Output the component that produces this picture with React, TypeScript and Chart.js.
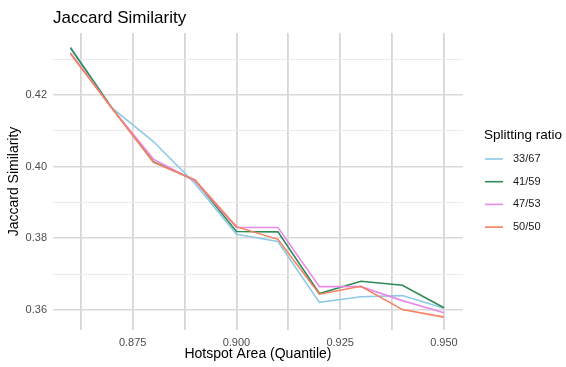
import React, { useEffect, useRef } from "react";
import { Chart, registerables } from "chart.js";

Chart.register(...registerables);

const xValues = [0.86, 0.87, 0.88, 0.89, 0.9, 0.91, 0.92, 0.93, 0.94, 0.95];
const seriesNames = ["33/67", "41/59", "47/53", "50/50"];
const s3367 = [0.4334, 0.4164, 0.4070, 0.3953, 0.3811, 0.3791, 0.3621, 0.3637, 0.3640, 0.3605];
const s4159 = [0.4331, 0.4164, 0.4014, 0.3962, 0.3819, 0.3818, 0.3646, 0.3680, 0.3669, 0.3606];
const s4753 = [0.4318, 0.4163, 0.4021, 0.3960, 0.3830, 0.3830, 0.3665, 0.3665, 0.3626, 0.3592];
const s5050 = [0.4315, 0.4163, 0.4012, 0.3963, 0.38325, 0.3797, 0.3644, 0.3666, 0.3601, 0.3580];
const seriesColors = ["#8ECAE6", "#2E8B57", "#E78AE8", "#F4805E"];
const xTickLabels = ["0.875", "0.900", "0.925", "0.950"];
const yTickLabels = ["0.36", "0.38", "0.40", "0.42"];

const FONT = "'Liberation Sans', Arial, sans-serif";

export default function App() {
  const ref = useRef<HTMLCanvasElement>(null);
  useEffect(() => {
    document.body.style.margin = "0";
    const canvas = ref.current!;
    const allSeries = [s3367, s4159, s4753, s5050];
    const near = (v: number, arr: string[]) => arr.some((l) => Math.abs(parseFloat(l) - v) < 1e-6);

    const overlay = {
      id: "overlay",
      afterDraw(chart: any) {
        const ctx = chart.ctx;
        const ca = chart.chartArea;
        ctx.save();
        ctx.fillStyle = "#000";
        ctx.font = `17px ${FONT}`;
        ctx.textAlign = "left";
        ctx.textBaseline = "middle";
        ctx.fillText("Jaccard Similarity", ca.left, 18);
        ctx.font = `14px ${FONT}`;
        ctx.textAlign = "center";
        ctx.fillText("Hotspot Area (Quantile)", (ca.left + ca.right) / 2, 354);
        ctx.save();
        ctx.translate(14, (ca.top + ca.bottom) / 2);
        ctx.rotate(-Math.PI / 2);
        ctx.fillText("Jaccard Similarity", 0, 0);
        ctx.restore();
        // legend
        ctx.textAlign = "left";
        ctx.font = `13.5px ${FONT}`;
        ctx.fillText("Splitting ratio", 484, 135);
        ctx.font = `11px ${FONT}`;
        seriesNames.forEach((n, i) => {
          const y = 159 + i * 22.7;
          ctx.strokeStyle = seriesColors[i];
          ctx.lineWidth = 1.6;
          ctx.beginPath();
          ctx.moveTo(485, y);
          ctx.lineTo(503, y);
          ctx.stroke();
          ctx.fillStyle = "#1a1a1a";
          ctx.fillText(n, 513, y);
        });
        ctx.restore();
      },
    };

    const chart = new Chart(canvas, {
      type: "line",
      data: {
        datasets: seriesNames.map((n, i) => ({
          label: n,
          data: xValues.map((x, j) => ({ x, y: allSeries[i][j] })),
          borderColor: seriesColors[i],
          backgroundColor: seriesColors[i],
          borderWidth: 1.6,
          pointRadius: 0,
          tension: 0,
          order: 4 - i,
        })),
      },
      options: {
        animation: false,
        responsive: false,
        maintainAspectRatio: false,
        layout: { padding: { left: 0, top: 33, right: 103, bottom: 0 } },
        plugins: { legend: { display: false }, title: { display: false }, tooltip: { enabled: false } },
        scales: {
          x: {
            type: "linear",
            min: 0.8558,
            max: 0.9546,
            border: { display: false },
            afterFit: (s: any) => { s.height = 37; },
            afterBuildTicks: (s: any) => {
              const t = [];
              for (let k = 0; k < 8; k++) t.push({ value: 0.8625 + k * 0.0125 });
              s.ticks = t;
            },
            grid: {
              drawTicks: false,
              color: "#D6D6D6",
              lineWidth: 1.8,
            },
            ticks: {
              padding: 6,
              color: "#4D4D4D",
              font: { family: FONT, size: 11 },
              maxRotation: 0,
              autoSkip: false,
              callback: (v: any) => {
                const n = Number(v);
                const lbl = xTickLabels.find((l) => Math.abs(parseFloat(l) - n) < 1e-6);
                return lbl ?? "";
              },
            },
          },
          y: {
            type: "linear",
            min: 0.3544,
            max: 0.4373,
            border: { display: false },
            afterFit: (s: any) => { s.width = 53; },
            afterBuildTicks: (s: any) => {
              const t = [];
              for (let k = 0; k < 8; k++) t.push({ value: 0.36 + k * 0.01 });
              s.ticks = t;
            },
            grid: {
              drawTicks: false,
              color: (c: any) => (near(c.tick?.value, yTickLabels) ? "#D9D9D9" : "#EBEBEB"),
              lineWidth: (c: any) => (near(c.tick?.value, yTickLabels) ? 1.6 : 1),
            },
            ticks: {
              padding: 6,
              color: "#4D4D4D",
              font: { family: FONT, size: 11 },
              autoSkip: false,
              callback: (v: any) => {
                const n = Number(v);
                const lbl = yTickLabels.find((l) => Math.abs(parseFloat(l) - n) < 1e-6);
                return lbl ?? "";
              },
            },
          },
        },
      },
      plugins: [overlay],
    });
    return () => chart.destroy();
  }, []);
  return <canvas ref={ref} width={566} height={367} style={{ display: "block" }} />;
}
